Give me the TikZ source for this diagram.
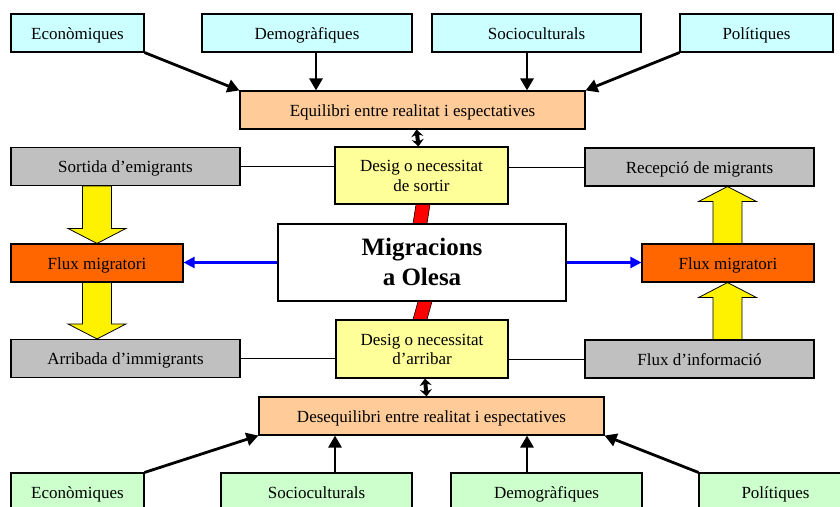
\documentclass[tikz,border=0pt]{standalone}
\usepackage{fontspec}
\setmainfont{Liberation Serif}
\usetikzlibrary{calc,arrows.meta}
\definecolor{cyanbox}{HTML}{CCFFFF}
\definecolor{peach}{HTML}{FFCC99}
\definecolor{paleyellow}{HTML}{FFFF99}
\definecolor{greybox}{HTML}{C0C0C0}
\definecolor{orangebox}{HTML}{FF6600}
\definecolor{greenbox}{HTML}{CCFFCC}
\tikzset{
  box/.style={draw=black, line width=1.1pt, inner sep=0pt, align=center,
    font=\fontsize{17}{19.5}\selectfont, minimum height=38,
    text height=13pt, text depth=0.4pt},
  twoline/.style={text height=31pt, text depth=0pt},
  factor/.style={line width=2.8pt, -{Triangle[length=12pt,width=13pt]}},
  bluearr/.style={draw=blue, line width=2.2pt, -{Triangle[length=11pt,width=11pt]}},
  thinline/.style={line width=0.8pt},
  yarrow/.style={draw=black, line width=0.8pt, fill=yellow},
  redbar/.style={draw=black, line width=0.6pt, fill=red},
  smallarr/.style={line width=4pt, {Stealth[length=7pt,width=12pt]}-{Stealth[length=7pt,width=12pt]}},
}
\newcommand\yblock[3]{\draw[yarrow] ($(#1)+(-14.5,0)$) -- ($(#2)+(-14.5,-15*#3)$) -- ($(#2)+(-29,-15*#3)$) -- (#2) -- ($(#2)+(29,-15*#3)$) -- ($(#2)+(14.5,-15*#3)$) -- ($(#1)+(14.5,0)$) -- cycle;}
\begin{document}
\begin{tikzpicture}[x=1pt,y=-1pt]
\useasboundingbox (0,0) rectangle (840,506);
\clip (0,0) rectangle (840,506);
% top factors
\node[box, fill=cyanbox, minimum width=133] (e1) at (77.5,33) {Econòmiques};
\node[box, fill=cyanbox, minimum width=210] (d1) at (307,33) {Demogràfiques};
\node[box, fill=cyanbox, minimum width=209] (s1) at (536.5,33) {Socioculturals};
\node[box, fill=cyanbox, minimum width=153] (p1) at (756.5,33) {Polítiques};
\node[box, fill=peach, minimum width=345] (eq) at (412.5,110) {Equilibri entre realitat i espectatives};
% middle
\node[box, twoline, fill=paleyellow, minimum width=173, minimum height=57] (ds) at (421.5,175.5) {Desig o necessitat\\de sortir};
\node[box, fill=greybox, minimum width=229] (so) at (125.5,166.5) {Sortida d’emigrants};
\node[box, fill=greybox, minimum width=229] (re) at (699.5,167) {Recepció de migrants};
\node[box, fill=orangebox, minimum width=172] (fl) at (97,263) {Flux migratori};
\node[box, fill=orangebox, minimum width=172] (fr) at (728,263) {Flux migratori};
\node[box, fill=white, minimum width=288, minimum height=77, font=\fontsize{25}{30}\selectfont\bfseries, text height=46.7pt, text depth=0pt] (mg) at (422,262.5) {Migracions\\a Olesa};
\node[box, twoline, fill=paleyellow, minimum width=172, minimum height=58] (da) at (422,349) {Desig o necessitat\\d’arribar};
\node[box, fill=greybox, minimum width=229] (ar) at (125.5,358.5) {Arribada d’immigrants};
\node[box, fill=greybox, minimum width=229] (fi) at (699.5,359) {Flux d’informació};
\node[box, fill=peach, minimum width=345] (de) at (431.5,416) {Desequilibri entre realitat i espectatives};
% bottom factors
\node[box, fill=greenbox, minimum width=133] (e2) at (77.5,492) {Econòmiques};
\node[box, fill=greenbox, minimum width=191] (s2) at (316.5,492) {Socioculturals};
\node[box, fill=greenbox, minimum width=191] (d2) at (546.5,492) {Demogràfiques};
\node[box, fill=greenbox, minimum width=153] (p2) at (775.5,492) {Polítiques};
% anchor points for the vertical factor arrows
\coordinate (d1a) at ($(d1.south)+(9,0)$);
\coordinate (d1b) at (d1a |- eq.north);
\coordinate (s1a) at ($(s1.south)+(-9.5,0)$);
\coordinate (s1b) at (s1a |- eq.north);
\coordinate (s2a) at ($(s2.north)+(18.5,0)$);
\coordinate (s2b) at (s2a |- de.south);
\coordinate (d2a) at ($(d2.north)+(-19.5,0)$);
\coordinate (d2b) at (d2a |- de.south);
% top factor arrows
\draw[factor] (e1.south east) -- (eq.north west);
\draw[factor] (d1a) -- (d1b);
\draw[factor] (s1a) -- (s1b);
\draw[factor] (p1.south west) -- (eq.north east);
% bottom factor arrows
\draw[factor] (e2.north east) -- (de.south west);
\draw[factor] (s2a) -- (s2b);
\draw[factor] (d2a) -- (d2b);
\draw[factor] (p2.north west) -- (de.south east);
% thin connectors
\draw[thinline] (so.east) -- (so.east -| ds.west);
\draw[thinline] (re.west) -- (re.west -| ds.east);
\draw[thinline] (ar.east) -- (ar.east -| da.west);
\draw[thinline] (fi.west) -- (fi.west -| da.east);
% blue arrows
\draw[bluearr] (mg.west) -- (mg.west -| fl.east);
\draw[bluearr] (mg.east) -- (mg.east -| fr.west);
% small double arrows
\coordinate (sa1) at ($(ds.north)+(-3,0)$);
\coordinate (sa2) at ($(ds.north |- eq.south)+(-5,0)$);
\coordinate (sb1) at ($(da.south)+(3,0)$);
\coordinate (sb2) at ($(de.north)+(-5,0)$);
\draw[smallarr] (sa1) -- (sa2);
\draw[smallarr] (sb1) -- (sb2);
% red bars
\draw[redbar] ($(ds.south)+(-5.5,0)$) -- ($(ds.south)+(8.5,0)$) -- ($(mg.north)+(5,0)$) -- ($(mg.north)+(-9,0)$) -- cycle;
\draw[redbar] ($(mg.south)+(-4,0)$) -- ($(mg.south)+(10,0)$) -- ($(da.north)+(5,0)$) -- ($(da.north)+(-9,0)$) -- cycle;
% yellow block arrows
\coordinate (y1s) at (fl.north |- so.south);
\coordinate (y1t) at (fl.north);
\coordinate (y2s) at (fl.south);
\coordinate (y2t) at (fl.south |- ar.north);
\coordinate (y3s) at ($(fr.north)+(-0.5,0)$);
\coordinate (y3t) at ($(fr.north |- re.south)+(-0.5,0)$);
\coordinate (y4s) at ($(fr.south |- fi.north)+(-0.5,0)$);
\coordinate (y4t) at ($(fr.south)+(-0.5,0)$);
\yblock{y1s}{y1t}{1}
\yblock{y2s}{y2t}{1}
\yblock{y3s}{y3t}{-1}
\yblock{y4s}{y4t}{-1}
\end{tikzpicture}
\end{document}
